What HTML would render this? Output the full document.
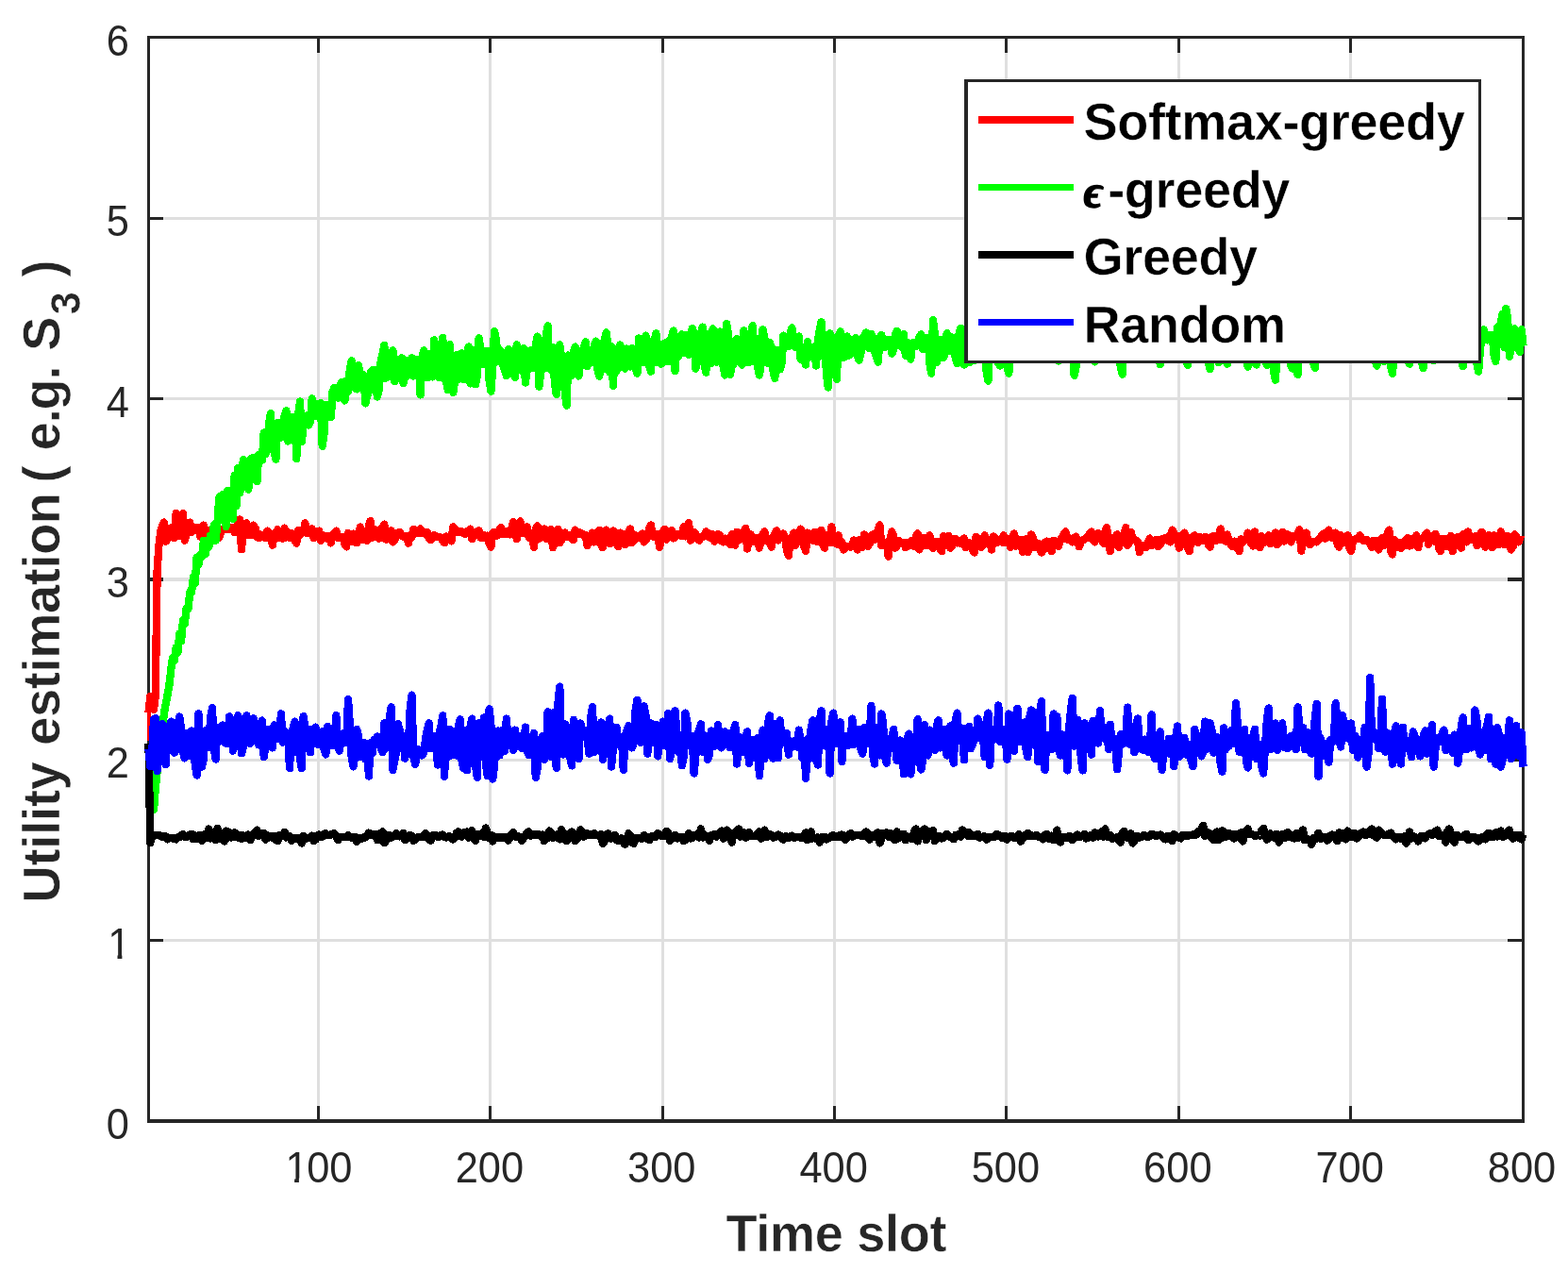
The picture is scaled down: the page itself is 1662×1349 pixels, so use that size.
<!DOCTYPE html>
<html lang="en"><head><meta charset="utf-8"><title>Utility estimation vs time slot</title>
<style>
html,body{margin:0;padding:0;background:#fff;}
svg{display:block}
text{font-family:"Liberation Sans",Arial,Helvetica,sans-serif;}
.tk{font-size:46.6px;fill:#262626;}
.lb{font-size:56.4px;font-weight:bold;fill:#262626;letter-spacing:-0.38px;stroke:#fff;stroke-width:0.5px;paint-order:fill stroke;}
.lg{font-size:56.4px;font-weight:bold;fill:#000;letter-spacing:-0.42px;stroke:#fff;stroke-width:0.5px;paint-order:fill stroke;}
.ln{fill:none;stroke-width:8.3;stroke-linejoin:round;stroke-linecap:butt;}
</style></head><body>
<svg width="1662" height="1349" viewBox="0 0 1662 1349">
<rect width="1662" height="1349" fill="#fff"/>
<g shape-rendering="crispEdges"><rect x="336" y="41" width="3" height="1145" fill="#dfdfdf"/><rect x="518" y="41" width="3" height="1145" fill="#dfdfdf"/><rect x="701" y="41" width="3" height="1145" fill="#dfdfdf"/><rect x="883" y="41" width="3" height="1145" fill="#dfdfdf"/><rect x="1065" y="41" width="3" height="1145" fill="#dfdfdf"/><rect x="1248" y="41" width="3" height="1145" fill="#dfdfdf"/><rect x="1430" y="41" width="3" height="1145" fill="#dfdfdf"/><rect x="159" y="995" width="1454" height="3" fill="#dfdfdf"/><rect x="159" y="804" width="1454" height="3" fill="#dfdfdf"/><rect x="159" y="612" width="1454" height="4" fill="#dfdfdf"/><rect x="159" y="421" width="1454" height="3" fill="#dfdfdf"/><rect x="159" y="230" width="1454" height="3" fill="#dfdfdf"/></g>
<g shape-rendering="crispEdges"><rect x="336" y="1172" width="3" height="14" fill="#262626"/><rect x="336" y="41" width="3" height="15" fill="#262626"/><rect x="518" y="1172" width="3" height="14" fill="#262626"/><rect x="518" y="41" width="3" height="15" fill="#262626"/><rect x="701" y="1172" width="3" height="14" fill="#262626"/><rect x="701" y="41" width="3" height="15" fill="#262626"/><rect x="883" y="1172" width="3" height="14" fill="#262626"/><rect x="883" y="41" width="3" height="15" fill="#262626"/><rect x="1065" y="1172" width="3" height="14" fill="#262626"/><rect x="1065" y="41" width="3" height="15" fill="#262626"/><rect x="1248" y="1172" width="3" height="14" fill="#262626"/><rect x="1248" y="41" width="3" height="15" fill="#262626"/><rect x="1430" y="1172" width="3" height="14" fill="#262626"/><rect x="1430" y="41" width="3" height="15" fill="#262626"/><rect x="159" y="995" width="14" height="3" fill="#262626"/><rect x="1598" y="995" width="15" height="3" fill="#262626"/><rect x="159" y="804" width="14" height="3" fill="#262626"/><rect x="1598" y="804" width="15" height="3" fill="#262626"/><rect x="159" y="612" width="14" height="4" fill="#262626"/><rect x="1598" y="612" width="15" height="4" fill="#262626"/><rect x="159" y="421" width="14" height="3" fill="#262626"/><rect x="1598" y="421" width="15" height="3" fill="#262626"/><rect x="159" y="230" width="14" height="3" fill="#262626"/><rect x="1598" y="230" width="15" height="3" fill="#262626"/></g>
<path shape-rendering="crispEdges" d="M156 38H1616V1190H156Z M159 41V1186H1613V41Z" fill="#262626" fill-rule="evenodd"/>
<clipPath id="c"><rect x="150" y="36" width="1470" height="1156"/></clipPath>
<g clip-path="url(#c)" shape-rendering="crispEdges"><path class="ln" stroke="#ff0000" d="M157.5,755.0 L159.3,738.0 L161.1,745.0 L163.0,752.0 L164.8,737.0 L166.6,605.0 L168.4,578.0 L170.3,563.0 L172.1,557.4 L173.9,553.6 L175.7,573.8 L177.6,570.9 L179.4,560.3 L181.2,559.5 L183.0,569.1 L184.9,570.1 L186.7,543.8 L188.5,549.8 L190.3,568.1 L192.1,549.7 L194.0,543.8 L195.8,572.8 L197.6,566.5 L199.4,556.1 L201.3,553.6 L203.1,564.1 L204.9,559.8 L206.7,558.8 L208.6,560.2 L210.4,558.8 L212.2,568.6 L214.0,558.8 L215.9,556.6 L217.7,565.8 L219.5,567.1 L221.3,561.8 L223.1,566.4 L225.0,561.9 L226.8,566.3 L228.6,561.4 L230.4,560.3 L232.3,569.8 L234.1,563.7 L235.9,560.7 L237.7,560.6 L239.6,560.3 L241.4,561.1 L243.2,560.5 L245.0,559.8 L246.9,558.8 L248.7,564.1 L250.5,559.2 L252.3,555.2 L254.1,550.6 L256.0,582.4 L257.8,559.5 L259.6,557.9 L261.4,554.3 L263.3,567.0 L265.1,567.1 L266.9,567.0 L268.7,556.6 L270.6,559.7 L272.4,568.9 L274.2,570.1 L276.0,566.4 L277.9,569.4 L279.7,569.2 L281.5,570.1 L283.3,562.6 L285.1,566.7 L287.0,565.6 L288.8,577.6 L290.6,565.2 L292.4,570.9 L294.3,561.1 L296.1,570.1 L297.9,563.5 L299.7,570.8 L301.6,559.6 L303.4,569.6 L305.2,564.2 L307.0,570.1 L308.9,564.8 L310.7,565.8 L312.5,572.9 L314.3,575.7 L316.1,561.8 L318.0,567.0 L319.8,563.9 L321.6,564.1 L323.4,554.3 L325.3,565.2 L327.1,562.4 L328.9,562.0 L330.7,560.3 L332.6,570.1 L334.4,564.8 L336.2,564.1 L338.0,562.6 L339.9,573.1 L341.7,567.2 L343.5,567.9 L345.3,568.2 L347.1,571.2 L349.0,567.9 L350.8,575.4 L352.6,567.2 L354.4,564.7 L356.3,562.6 L358.1,570.1 L359.9,568.4 L361.7,569.4 L363.6,569.1 L365.4,576.6 L367.2,579.4 L369.0,564.8 L370.9,572.6 L372.7,573.8 L374.5,565.6 L376.3,573.1 L378.1,575.4 L380.0,572.9 L381.8,558.5 L383.6,572.1 L385.4,564.9 L387.3,564.8 L389.1,573.1 L390.9,556.8 L392.7,552.1 L394.6,569.6 L396.4,560.5 L398.2,563.0 L400.0,561.9 L401.9,570.8 L403.7,561.6 L405.5,558.9 L407.3,555.6 L409.1,571.7 L411.0,569.6 L412.8,563.8 L414.6,562.3 L416.4,574.4 L418.3,571.9 L420.1,568.9 L421.9,564.8 L423.7,563.7 L425.6,567.1 L427.4,568.8 L429.2,567.9 L431.0,568.2 L432.9,575.8 L434.7,568.4 L436.5,569.0 L438.3,561.0 L440.1,562.5 L442.0,565.2 L443.8,564.4 L445.6,560.5 L447.4,565.1 L449.3,565.4 L451.1,565.3 L452.9,563.7 L454.7,570.7 L456.6,572.2 L458.4,567.6 L460.2,567.0 L462.0,569.0 L463.9,569.0 L465.7,569.4 L467.5,569.5 L469.3,573.4 L471.1,575.3 L473.0,568.6 L474.8,569.7 L476.6,571.3 L478.4,573.5 L480.3,558.3 L482.1,560.1 L483.9,563.5 L485.7,563.8 L487.6,562.8 L489.4,563.2 L491.2,565.3 L493.0,565.8 L494.9,563.0 L496.7,562.2 L498.5,560.6 L500.3,571.3 L502.1,564.6 L504.0,565.5 L505.8,563.9 L507.6,562.3 L509.4,569.9 L511.3,570.3 L513.1,567.4 L514.9,567.7 L516.7,567.6 L518.6,576.4 L520.4,579.8 L522.2,565.4 L524.0,563.7 L525.9,568.0 L527.7,567.1 L529.5,561.1 L531.3,559.2 L533.1,566.2 L535.0,565.6 L536.8,566.2 L538.6,562.8 L540.4,566.4 L542.3,560.5 L544.1,552.9 L545.9,556.5 L547.7,571.3 L549.6,556.0 L551.4,552.5 L553.2,564.4 L555.0,564.9 L556.9,561.4 L558.7,558.3 L560.5,569.0 L562.3,570.5 L564.1,565.5 L566.0,579.8 L567.8,560.9 L569.6,557.4 L571.4,570.8 L573.3,569.8 L575.1,562.3 L576.9,560.5 L578.7,570.8 L580.6,570.4 L582.4,562.3 L584.2,561.0 L586.0,580.3 L587.9,576.1 L589.7,563.1 L591.5,561.0 L593.3,575.3 L595.1,572.6 L597.0,565.1 L598.8,564.6 L600.6,569.0 L602.4,567.6 L604.3,567.3 L606.1,570.7 L607.9,572.2 L609.7,561.6 L611.6,565.3 L613.4,566.2 L615.2,564.6 L617.0,565.7 L618.9,567.2 L620.7,567.3 L622.5,578.0 L624.3,575.4 L626.1,567.0 L628.0,564.6 L629.8,574.4 L631.6,574.0 L633.4,564.8 L635.3,561.9 L637.1,576.9 L638.9,580.3 L640.7,564.7 L642.6,561.6 L644.4,565.0 L646.2,576.2 L648.0,574.0 L649.9,562.5 L651.7,565.2 L653.5,576.2 L655.3,579.2 L657.1,564.6 L659.0,565.6 L660.8,574.5 L662.6,577.1 L664.4,573.5 L666.3,563.4 L668.1,560.5 L669.9,575.3 L671.7,573.1 L673.6,567.3 L675.4,567.9 L677.2,569.9 L679.0,570.0 L680.9,565.5 L682.7,574.4 L684.5,572.0 L686.3,569.8 L688.1,559.8 L690.0,556.5 L691.8,568.1 L693.6,569.2 L695.4,565.9 L697.3,566.4 L699.1,579.8 L700.9,571.6 L702.7,563.4 L704.6,561.0 L706.4,571.7 L708.2,569.1 L710.0,563.6 L711.9,561.9 L713.7,570.4 L715.5,569.3 L717.3,566.4 L719.1,566.6 L721.0,567.4 L722.8,568.1 L724.6,558.3 L726.4,568.4 L728.3,558.3 L730.1,554.3 L731.9,572.6 L733.7,569.7 L735.6,563.7 L737.4,565.5 L739.2,571.4 L741.0,572.6 L742.9,570.0 L744.7,568.8 L746.5,568.1 L748.3,563.4 L750.1,564.8 L752.0,569.4 L753.8,566.7 L755.6,566.4 L757.4,573.8 L759.3,571.1 L761.1,565.9 L762.9,567.4 L764.7,573.1 L766.6,574.4 L768.4,570.6 L770.2,572.7 L772.0,574.8 L773.9,576.7 L775.7,566.4 L777.5,575.3 L779.3,577.6 L781.1,563.7 L783.0,567.2 L784.8,571.7 L786.6,570.8 L788.4,563.2 L790.3,559.7 L792.1,581.6 L793.9,567.9 L795.7,566.4 L797.6,573.5 L799.4,573.8 L801.2,570.2 L803.0,570.0 L804.9,580.7 L806.7,573.9 L808.5,565.9 L810.3,563.4 L812.1,572.6 L814.0,573.9 L815.8,570.9 L817.6,579.8 L819.4,569.3 L821.3,565.2 L823.1,562.3 L824.9,572.6 L826.7,567.7 L828.6,566.9 L830.4,565.5 L832.2,570.8 L834.0,583.4 L835.9,588.8 L837.7,570.0 L839.5,576.5 L841.3,564.6 L843.1,578.0 L845.0,566.1 L846.8,573.5 L848.6,560.5 L850.4,563.8 L852.3,579.2 L854.1,583.8 L855.9,564.6 L857.7,566.4 L859.6,571.3 L861.4,572.6 L863.2,563.7 L865.0,565.6 L866.9,574.4 L868.7,564.6 L870.5,561.9 L872.3,577.3 L874.1,580.7 L876.0,567.3 L877.8,567.2 L879.6,575.3 L881.4,558.3 L883.3,574.9 L885.1,575.0 L886.9,576.5 L888.7,567.3 L890.6,577.8 L892.4,574.5 L894.2,582.5 L896.0,581.2 L897.9,579.1 L899.7,579.1 L901.5,579.8 L903.3,579.1 L905.1,572.4 L907.0,573.9 L908.8,582.5 L910.6,572.3 L912.4,577.8 L914.3,579.8 L916.1,566.4 L917.9,568.6 L919.7,578.9 L921.6,576.2 L923.4,567.8 L925.2,566.4 L927.0,571.7 L928.9,570.6 L930.7,560.8 L932.5,556.5 L934.3,578.0 L936.1,576.4 L938.0,575.0 L939.8,574.5 L941.6,589.7 L943.4,571.7 L945.3,563.4 L947.1,567.2 L948.9,580.7 L950.7,578.6 L952.6,572.7 L954.4,575.3 L956.2,576.1 L958.0,575.1 L959.9,580.3 L961.7,575.4 L963.5,578.4 L965.3,574.0 L967.1,572.7 L969.0,578.9 L970.8,568.8 L972.6,565.5 L974.4,582.5 L976.3,570.1 L978.1,571.5 L979.9,570.0 L981.7,578.0 L983.6,569.7 L985.4,567.3 L987.2,579.0 L989.0,581.0 L990.9,574.5 L992.7,575.4 L994.5,573.7 L996.3,581.5 L998.1,584.3 L1000.0,568.2 L1001.8,571.3 L1003.6,570.1 L1005.4,567.7 L1007.3,580.7 L1009.1,578.4 L1010.9,572.0 L1012.7,570.9 L1014.6,575.3 L1016.4,574.7 L1018.2,575.9 L1020.0,571.9 L1021.9,570.6 L1023.7,580.3 L1025.5,579.1 L1027.3,575.4 L1029.1,576.2 L1031.0,582.8 L1032.8,585.6 L1034.6,568.8 L1036.4,571.3 L1038.3,571.8 L1040.1,579.8 L1041.9,578.1 L1043.7,567.3 L1045.6,571.8 L1047.4,573.2 L1049.2,571.8 L1051.0,582.5 L1052.9,568.6 L1054.7,570.4 L1056.5,575.3 L1058.3,571.8 L1060.1,571.5 L1062.0,574.7 L1063.8,567.3 L1065.6,574.9 L1067.4,571.1 L1069.3,570.9 L1071.1,580.1 L1072.9,577.9 L1074.7,565.5 L1076.6,578.6 L1078.4,571.2 L1080.2,573.3 L1082.0,571.8 L1083.9,584.7 L1085.7,573.0 L1087.5,571.3 L1089.3,585.2 L1091.1,580.6 L1093.0,566.4 L1094.8,569.9 L1096.6,580.3 L1098.4,575.4 L1100.3,575.8 L1102.1,580.8 L1103.9,585.6 L1105.7,582.9 L1107.6,574.9 L1109.4,573.6 L1111.2,574.4 L1113.0,581.7 L1114.9,584.3 L1116.7,572.7 L1118.5,573.3 L1120.3,577.4 L1122.1,578.9 L1124.0,571.8 L1125.8,570.2 L1127.6,565.8 L1129.4,563.4 L1131.3,571.7 L1133.1,570.1 L1134.9,570.9 L1136.7,574.4 L1138.6,569.8 L1140.4,568.6 L1142.2,574.1 L1144.0,579.4 L1145.9,572.7 L1147.7,572.6 L1149.5,571.5 L1151.3,569.6 L1153.1,569.9 L1155.0,565.4 L1156.8,563.4 L1158.6,572.6 L1160.4,574.4 L1162.3,566.8 L1164.1,565.2 L1165.9,567.7 L1167.7,567.3 L1169.6,575.8 L1171.4,563.1 L1173.2,559.2 L1175.0,576.4 L1176.9,584.3 L1178.7,570.0 L1180.5,570.3 L1182.3,568.8 L1184.1,566.4 L1186.0,579.8 L1187.8,568.2 L1189.6,575.3 L1191.4,567.1 L1193.3,559.2 L1195.1,578.0 L1196.9,575.5 L1198.7,563.7 L1200.6,571.7 L1202.4,571.8 L1204.2,572.7 L1206.0,574.0 L1207.9,585.2 L1209.7,578.1 L1211.5,578.2 L1213.3,578.9 L1215.1,579.8 L1217.0,574.5 L1218.8,570.6 L1220.6,578.0 L1222.4,577.2 L1224.3,572.6 L1226.1,571.8 L1227.9,579.2 L1229.7,577.2 L1231.6,571.2 L1233.4,572.6 L1235.2,570.0 L1237.0,572.7 L1238.9,568.2 L1240.7,574.4 L1242.5,561.6 L1244.3,564.7 L1246.1,567.9 L1248.0,568.2 L1249.8,580.7 L1251.6,577.9 L1253.4,567.4 L1255.3,564.6 L1257.1,568.9 L1258.9,580.7 L1260.7,584.3 L1262.6,570.0 L1264.4,570.1 L1266.2,567.3 L1268.0,573.6 L1269.9,574.9 L1271.7,568.8 L1273.5,572.5 L1275.3,572.6 L1277.1,568.8 L1279.0,569.4 L1280.8,577.1 L1282.6,579.8 L1284.4,569.3 L1286.3,567.7 L1288.1,573.2 L1289.9,572.6 L1291.7,572.0 L1293.6,560.5 L1295.4,572.2 L1297.2,572.4 L1299.0,573.5 L1300.9,566.4 L1302.7,574.0 L1304.5,577.0 L1306.3,578.9 L1308.1,573.6 L1310.0,576.5 L1311.8,581.0 L1313.6,584.3 L1315.4,571.3 L1317.3,574.1 L1319.1,571.5 L1320.9,571.7 L1322.7,564.6 L1324.6,573.2 L1326.4,575.9 L1328.2,578.5 L1330.0,563.4 L1331.9,575.4 L1333.7,577.4 L1335.5,580.3 L1337.3,568.2 L1339.1,574.5 L1341.0,574.4 L1342.8,573.9 L1344.6,567.3 L1346.4,576.2 L1348.3,574.4 L1350.1,574.4 L1351.9,564.6 L1353.7,577.1 L1355.6,574.8 L1357.4,566.0 L1359.2,563.7 L1361.0,573.5 L1362.9,572.3 L1364.7,566.4 L1366.5,567.9 L1368.3,574.4 L1370.1,568.2 L1372.0,569.4 L1373.8,568.1 L1375.6,565.0 L1377.4,561.4 L1379.3,583.8 L1381.1,568.5 L1382.9,567.3 L1384.7,564.6 L1386.6,575.7 L1388.4,577.1 L1390.2,575.4 L1392.0,574.0 L1393.9,574.0 L1395.7,574.4 L1397.5,571.8 L1399.3,571.0 L1401.1,567.3 L1403.0,565.5 L1404.8,570.8 L1406.6,564.0 L1408.4,561.6 L1410.3,569.2 L1412.1,569.9 L1413.9,566.2 L1415.7,564.6 L1417.6,576.7 L1419.4,579.8 L1421.2,567.3 L1423.0,574.8 L1424.9,575.3 L1426.7,569.1 L1428.5,567.3 L1430.3,580.5 L1432.1,583.8 L1434.0,572.7 L1435.8,571.7 L1437.6,571.0 L1439.4,570.8 L1441.3,567.3 L1443.1,571.1 L1444.9,572.7 L1446.7,572.1 L1448.6,571.8 L1450.4,574.4 L1452.2,575.8 L1454.0,579.8 L1455.9,572.7 L1457.7,573.3 L1459.5,572.7 L1461.3,582.5 L1463.1,578.3 L1465.0,570.0 L1466.8,578.0 L1468.6,576.7 L1470.4,566.0 L1472.3,561.6 L1474.1,583.4 L1475.9,587.5 L1477.7,571.8 L1479.6,573.8 L1481.4,579.9 L1483.2,575.4 L1485.0,580.7 L1486.9,574.6 L1488.7,578.4 L1490.5,572.0 L1492.3,570.0 L1494.1,578.5 L1496.0,577.8 L1497.8,571.3 L1499.6,569.8 L1501.4,567.3 L1503.3,580.3 L1505.1,571.3 L1506.9,570.9 L1508.7,570.0 L1510.6,567.3 L1512.4,564.6 L1514.2,577.1 L1516.0,568.2 L1517.9,569.2 L1519.7,573.5 L1521.5,565.9 L1523.3,569.3 L1525.1,580.8 L1527.0,584.3 L1528.8,570.9 L1530.6,571.4 L1532.4,578.9 L1534.3,570.7 L1536.1,578.9 L1537.9,567.9 L1539.7,584.3 L1541.6,570.1 L1543.4,570.9 L1545.2,569.1 L1547.0,578.2 L1548.9,580.7 L1550.7,566.4 L1552.5,568.1 L1554.3,574.4 L1556.1,563.4 L1558.0,571.7 L1559.8,571.7 L1561.6,572.0 L1563.4,568.2 L1565.3,578.0 L1567.1,575.6 L1568.9,566.3 L1570.7,563.7 L1572.6,576.9 L1574.4,579.8 L1576.2,569.0 L1578.0,567.3 L1579.9,576.7 L1581.7,580.3 L1583.5,567.3 L1585.3,568.0 L1587.1,576.3 L1589.0,577.1 L1590.8,563.4 L1592.6,567.3 L1594.4,577.1 L1596.3,575.5 L1598.1,568.2 L1599.9,569.2 L1601.7,582.5 L1603.6,579.2 L1605.4,566.4 L1607.2,568.5 L1609.0,574.4 L1610.9,572.4 L1612.7,571.8 L1614.5,572.6"/>
<rect x="156" y="754" width="3.6" height="31" fill="#ff0000"/>
<path class="ln" stroke="#00ff00" d="M157.5,790.0 L159.3,830.0 L161.1,853.0 L163.0,858.0 L164.8,835.0 L166.6,818.0 L168.4,802.0 L170.3,787.0 L172.1,771.0 L173.9,756.0 L175.7,746.0 L177.6,736.0 L179.4,726.0 L181.2,710.0 L183.0,697.0 L184.9,699.8 L186.7,686.0 L188.5,691.3 L190.3,671.5 L192.1,679.3 L194.0,657.2 L195.8,661.5 L197.6,644.3 L199.4,645.5 L201.3,627.5 L203.1,627.5 L204.9,611.8 L206.7,618.4 L208.6,590.5 L210.4,598.7 L212.2,587.9 L214.0,589.7 L215.9,572.8 L217.7,587.1 L219.5,572.8 L221.3,579.7 L223.1,567.4 L225.0,573.5 L226.8,556.3 L228.6,572.6 L230.4,554.8 L232.3,527.4 L234.1,525.6 L235.9,524.4 L237.7,524.7 L239.6,558.0 L241.4,519.7 L243.2,523.2 L245.0,520.6 L246.9,549.7 L248.7,503.6 L250.5,535.9 L252.3,496.1 L254.1,522.4 L256.0,514.0 L257.8,487.1 L259.6,490.1 L261.4,510.3 L263.3,518.6 L265.1,487.9 L266.9,485.5 L268.7,485.0 L270.6,502.9 L272.4,510.3 L274.2,481.8 L276.0,481.0 L277.9,487.8 L279.7,458.5 L281.5,481.0 L283.3,476.6 L285.1,447.9 L287.0,438.2 L288.8,476.2 L290.6,478.6 L292.4,486.7 L294.3,447.9 L296.1,451.2 L297.9,463.7 L299.7,461.6 L301.6,441.2 L303.4,435.2 L305.2,467.5 L307.0,462.4 L308.9,443.9 L310.7,441.9 L312.5,443.4 L314.3,486.0 L316.1,439.2 L318.0,425.4 L319.8,468.2 L321.6,451.9 L323.4,450.9 L325.3,440.4 L327.1,450.5 L328.9,446.6 L330.7,422.4 L332.6,440.9 L334.4,428.1 L336.2,441.0 L338.0,429.1 L339.9,427.0 L341.7,472.7 L343.5,459.2 L345.3,429.5 L347.1,428.8 L349.0,437.0 L350.8,442.2 L352.6,414.9 L354.4,410.8 L356.3,415.6 L358.1,421.7 L359.9,409.3 L361.7,405.4 L363.6,420.6 L365.4,424.5 L367.2,403.4 L369.0,414.7 L370.9,390.6 L372.7,382.3 L374.5,396.1 L376.3,411.0 L378.1,412.4 L380.0,387.3 L381.8,397.7 L383.6,396.4 L385.4,397.7 L387.3,427.4 L389.1,419.8 L390.9,414.2 L392.7,395.0 L394.6,392.4 L396.4,391.8 L398.2,410.7 L400.0,420.5 L401.9,412.2 L403.7,383.0 L405.5,375.1 L407.3,366.0 L409.1,400.7 L411.0,396.6 L412.8,398.8 L414.6,377.7 L416.4,371.4 L418.3,404.3 L420.1,399.9 L421.9,380.9 L423.7,383.2 L425.6,379.2 L427.4,406.1 L429.2,381.6 L431.0,399.0 L432.9,381.7 L434.7,382.9 L436.5,379.2 L438.3,398.5 L440.1,382.6 L442.0,381.0 L443.8,382.8 L445.6,418.4 L447.4,378.6 L449.3,371.4 L451.1,377.4 L452.9,400.3 L454.7,375.3 L456.6,397.7 L458.4,399.4 L460.2,360.3 L462.0,372.1 L463.9,396.8 L465.7,400.3 L467.5,397.9 L469.3,358.1 L471.1,400.7 L473.0,404.3 L474.8,413.3 L476.6,365.3 L478.4,406.8 L480.3,416.0 L482.1,403.9 L483.9,376.2 L485.7,402.0 L487.6,377.0 L489.4,374.3 L491.2,402.1 L493.0,398.9 L494.9,374.1 L496.7,367.5 L498.5,406.5 L500.3,398.8 L502.1,371.0 L504.0,407.4 L505.8,398.3 L507.6,358.4 L509.4,370.0 L511.3,386.2 L513.1,384.1 L514.9,372.0 L516.7,371.7 L518.6,403.4 L520.4,414.6 L522.2,391.4 L524.0,351.2 L525.9,359.8 L527.7,382.6 L529.5,370.7 L531.3,372.2 L533.1,386.1 L535.0,392.0 L536.8,398.3 L538.6,370.2 L540.4,389.9 L542.3,371.8 L544.1,393.4 L545.9,400.1 L547.7,365.3 L549.6,371.4 L551.4,392.5 L553.2,372.4 L555.0,369.3 L556.9,405.6 L558.7,392.6 L560.5,373.3 L562.3,371.4 L564.1,389.9 L566.0,389.5 L567.8,365.0 L569.6,356.6 L571.4,409.7 L573.3,394.0 L575.1,365.2 L576.9,390.6 L578.7,356.2 L580.6,345.4 L582.4,389.9 L584.2,391.9 L586.0,368.1 L587.9,405.8 L589.7,417.8 L591.5,372.8 L593.3,365.3 L595.1,402.6 L597.0,377.0 L598.8,416.2 L600.6,429.6 L602.4,376.5 L604.3,377.4 L606.1,397.9 L607.9,373.7 L609.7,367.5 L611.6,392.9 L613.4,398.5 L615.2,372.5 L617.0,387.0 L618.9,368.1 L620.7,362.4 L622.5,388.1 L624.3,383.3 L626.1,381.1 L628.0,383.5 L629.8,365.5 L631.6,361.6 L633.4,391.2 L635.3,398.7 L637.1,364.2 L638.9,391.4 L640.7,361.3 L642.6,352.5 L644.4,365.6 L646.2,394.4 L648.0,367.3 L649.9,408.7 L651.7,370.2 L653.5,393.2 L655.3,369.8 L657.1,365.5 L659.0,370.2 L660.8,389.0 L662.6,390.6 L664.4,369.5 L666.3,370.7 L668.1,388.5 L669.9,369.2 L671.7,388.4 L673.6,389.5 L675.4,395.7 L677.2,358.3 L679.0,364.1 L680.9,384.3 L682.7,382.8 L684.5,355.6 L686.3,362.1 L688.1,387.0 L690.0,393.7 L691.8,362.8 L693.6,360.4 L695.4,353.2 L697.3,384.2 L699.1,365.0 L700.9,385.6 L702.7,364.6 L704.6,383.3 L706.4,363.0 L708.2,383.1 L710.0,360.2 L711.9,357.6 L713.7,350.5 L715.5,393.3 L717.3,357.4 L719.1,377.8 L721.0,356.8 L722.8,354.3 L724.6,373.8 L726.4,373.3 L728.3,355.0 L730.1,375.7 L731.9,354.1 L733.7,348.0 L735.6,353.8 L737.4,390.6 L739.2,382.6 L741.0,382.4 L742.9,353.5 L744.7,346.6 L746.5,385.7 L748.3,394.8 L750.1,353.7 L752.0,382.9 L753.8,385.2 L755.6,348.4 L757.4,354.0 L759.3,383.7 L761.1,354.7 L762.9,351.4 L764.7,354.8 L766.6,388.0 L768.4,397.5 L770.2,343.1 L772.0,354.9 L773.9,396.9 L775.7,388.3 L777.5,386.1 L779.3,361.0 L781.1,359.2 L783.0,361.0 L784.8,383.3 L786.6,386.6 L788.4,350.2 L790.3,358.4 L792.1,381.7 L793.9,384.3 L795.7,381.9 L797.6,345.3 L799.4,383.4 L801.2,359.0 L803.0,388.6 L804.9,397.5 L806.7,385.2 L808.5,349.3 L810.3,357.9 L812.1,364.5 L814.0,385.0 L815.8,362.8 L817.6,367.8 L819.4,392.7 L821.3,400.9 L823.1,371.3 L824.9,373.1 L826.7,391.5 L828.6,384.8 L830.4,355.6 L832.2,359.9 L834.0,362.4 L835.9,367.3 L837.7,352.7 L839.5,347.5 L841.3,363.5 L843.1,368.0 L845.0,362.6 L846.8,356.5 L848.6,380.7 L850.4,374.8 L852.3,381.1 L854.1,386.6 L855.9,362.3 L857.7,377.9 L859.6,367.7 L861.4,369.5 L863.2,367.3 L865.0,387.5 L866.9,360.4 L868.7,350.0 L870.5,341.2 L872.3,377.1 L874.1,355.4 L876.0,396.8 L877.8,410.5 L879.6,353.2 L881.4,357.1 L883.3,387.2 L885.1,391.3 L886.9,401.8 L888.7,356.7 L890.6,351.4 L892.4,357.2 L894.2,378.9 L896.0,358.2 L897.9,356.5 L899.7,376.7 L901.5,375.1 L903.3,359.7 L905.1,361.6 L907.0,358.3 L908.8,376.8 L910.6,381.6 L912.4,374.6 L914.3,358.2 L916.1,356.9 L917.9,352.5 L919.7,367.9 L921.6,369.0 L923.4,353.8 L925.2,357.7 L927.0,372.4 L928.9,377.7 L930.7,383.8 L932.5,358.7 L934.3,355.1 L936.1,366.5 L938.0,368.1 L939.8,360.5 L941.6,360.1 L943.4,360.4 L945.3,374.7 L947.1,371.0 L948.9,355.0 L950.7,350.7 L952.6,366.2 L954.4,364.9 L956.2,368.0 L958.0,354.3 L959.9,377.1 L961.7,362.8 L963.5,376.3 L965.3,380.7 L967.1,364.6 L969.0,362.7 L970.8,367.0 L972.6,366.2 L974.4,357.3 L976.3,354.3 L978.1,369.9 L979.9,367.9 L981.7,358.3 L983.6,357.7 L985.4,385.4 L987.2,395.7 L989.0,339.3 L990.9,354.7 L992.7,384.3 L994.5,378.2 L996.3,360.1 L998.1,360.8 L1000.0,378.9 L1001.8,374.2 L1003.6,353.2 L1005.4,369.1 L1007.3,371.7 L1009.1,357.4 L1010.9,360.6 L1012.7,378.9 L1014.6,385.2 L1016.4,354.7 L1018.2,348.0 L1020.0,379.9 L1021.9,386.6 L1023.7,349.3 L1025.5,379.4 L1027.3,384.3 L1029.1,379.5 L1031.0,377.7 L1032.8,382.1 L1034.6,360.3 L1036.4,358.3 L1038.3,361.2 L1040.1,374.0 L1041.9,361.5 L1043.7,374.0 L1045.6,393.8 L1047.4,403.6 L1049.2,361.8 L1051.0,374.0 L1052.9,361.6 L1054.7,374.0 L1056.5,361.4 L1058.3,385.2 L1060.1,387.5 L1062.0,374.0 L1063.8,361.4 L1065.6,374.0 L1067.4,388.3 L1069.3,395.7 L1071.1,361.6 L1072.9,374.0 L1074.7,361.5 L1076.6,374.0 L1078.4,361.4 L1080.2,374.0 L1082.0,361.4 L1083.9,374.0 L1085.7,361.3 L1087.5,374.0 L1089.3,361.3 L1091.1,358.3 L1093.0,361.2 L1094.8,374.0 L1096.6,361.1 L1098.4,374.0 L1100.3,361.1 L1102.1,374.0 L1103.9,361.0 L1105.7,374.0 L1107.6,361.0 L1109.4,374.0 L1111.2,360.9 L1113.0,374.0 L1114.9,360.9 L1116.7,374.0 L1118.5,360.8 L1120.3,374.0 L1122.1,382.5 L1124.0,380.5 L1125.8,360.9 L1127.6,374.0 L1129.4,361.0 L1131.3,374.0 L1133.1,361.2 L1134.9,374.0 L1136.7,361.4 L1138.6,397.8 L1140.4,389.5 L1142.2,374.0 L1144.0,358.3 L1145.9,363.5 L1147.7,361.2 L1149.5,374.0 L1151.3,361.1 L1153.1,374.0 L1155.0,361.0 L1156.8,374.0 L1158.6,379.1 L1160.4,383.4 L1162.3,360.9 L1164.1,374.0 L1165.9,360.9 L1167.7,374.0 L1169.6,361.0 L1171.4,374.0 L1173.2,361.1 L1175.0,374.0 L1176.9,361.2 L1178.7,374.0 L1180.5,361.3 L1182.3,374.0 L1184.1,361.4 L1186.0,374.0 L1187.8,388.7 L1189.6,396.6 L1191.4,361.5 L1193.3,374.0 L1195.1,361.5 L1196.9,374.0 L1198.7,358.3 L1200.6,363.8 L1202.4,361.5 L1204.2,374.0 L1206.0,361.1 L1207.9,374.0 L1209.7,361.1 L1211.5,374.0 L1213.3,361.1 L1215.1,374.0 L1217.0,361.1 L1218.8,358.3 L1220.6,361.1 L1222.4,374.0 L1224.3,361.1 L1226.1,374.0 L1227.9,361.1 L1229.7,386.1 L1231.6,381.2 L1233.4,374.0 L1235.2,361.1 L1237.0,374.0 L1238.9,361.1 L1240.7,374.0 L1242.5,361.1 L1244.3,374.0 L1246.1,361.1 L1248.0,374.0 L1249.8,361.1 L1251.6,374.0 L1253.4,361.1 L1255.3,374.0 L1257.1,381.8 L1258.9,387.0 L1260.7,361.1 L1262.6,374.0 L1264.4,361.1 L1266.2,374.0 L1268.0,361.2 L1269.9,374.0 L1271.7,361.2 L1273.5,374.0 L1275.3,361.2 L1277.1,374.0 L1279.0,361.2 L1280.8,384.8 L1282.6,391.2 L1284.4,374.0 L1286.3,361.1 L1288.1,374.0 L1289.9,358.3 L1291.7,384.3 L1293.6,360.9 L1295.4,374.0 L1297.2,361.0 L1299.0,382.4 L1300.9,385.7 L1302.7,374.0 L1304.5,361.0 L1306.3,374.0 L1308.1,361.1 L1310.0,374.0 L1311.8,361.1 L1313.6,374.0 L1315.4,361.1 L1317.3,374.0 L1319.1,361.2 L1320.9,374.0 L1322.7,388.8 L1324.6,384.5 L1326.4,361.2 L1328.2,374.0 L1330.0,381.7 L1331.9,386.6 L1333.7,361.1 L1335.5,374.0 L1337.3,361.2 L1339.1,374.0 L1341.0,382.0 L1342.8,387.0 L1344.6,361.4 L1346.4,374.0 L1348.3,361.7 L1350.1,393.5 L1351.9,402.7 L1353.7,374.0 L1355.6,361.9 L1357.4,374.0 L1359.2,361.8 L1361.0,364.4 L1362.9,358.3 L1364.7,374.0 L1366.5,361.6 L1368.3,387.7 L1370.1,390.6 L1372.0,374.0 L1373.8,389.5 L1375.6,396.9 L1377.4,361.8 L1379.3,374.0 L1381.1,361.7 L1382.9,374.0 L1384.7,361.7 L1386.6,374.0 L1388.4,361.6 L1390.2,374.0 L1392.0,384.6 L1393.9,390.1 L1395.7,361.5 L1397.5,374.0 L1399.3,361.5 L1401.1,374.0 L1403.0,361.5 L1404.8,374.0 L1406.6,361.5 L1408.4,374.0 L1410.3,361.5 L1412.1,374.0 L1413.9,361.5 L1415.7,374.0 L1417.6,361.5 L1419.4,374.0 L1421.2,361.5 L1423.0,374.0 L1424.9,361.5 L1426.7,374.0 L1428.5,361.5 L1430.3,374.0 L1432.1,361.5 L1434.0,358.3 L1435.8,361.5 L1437.6,374.0 L1439.4,361.5 L1441.3,374.0 L1443.1,361.0 L1444.9,374.0 L1446.7,361.0 L1448.6,363.0 L1450.4,358.3 L1452.2,374.0 L1454.0,361.0 L1455.9,374.0 L1457.7,382.0 L1459.5,387.5 L1461.3,360.9 L1463.1,374.0 L1465.0,378.8 L1466.8,383.0 L1468.6,360.9 L1470.4,374.0 L1472.3,361.2 L1474.1,388.2 L1475.9,396.0 L1477.7,374.0 L1479.6,361.4 L1481.4,374.0 L1483.2,361.3 L1485.0,374.0 L1486.9,361.2 L1488.7,374.0 L1490.5,361.1 L1492.3,383.3 L1494.1,385.7 L1496.0,374.0 L1497.8,361.1 L1499.6,374.0 L1501.4,361.1 L1503.3,363.2 L1505.1,358.3 L1506.9,383.9 L1508.7,390.1 L1510.6,374.0 L1512.4,361.0 L1514.2,374.0 L1516.0,360.8 L1517.9,380.3 L1519.7,382.1 L1521.5,374.0 L1523.3,360.6 L1525.1,374.0 L1527.0,360.6 L1528.8,374.0 L1530.6,360.6 L1532.4,374.0 L1534.3,360.5 L1536.1,374.0 L1537.9,360.5 L1539.7,374.0 L1541.6,360.4 L1543.4,374.0 L1545.2,360.4 L1547.0,374.0 L1548.9,381.4 L1550.7,388.3 L1552.5,360.3 L1554.3,374.0 L1556.1,360.3 L1558.0,358.3 L1559.8,359.9 L1561.6,374.0 L1563.4,358.5 L1565.3,384.3 L1567.1,393.7 L1568.9,371.0 L1570.7,353.4 L1572.6,349.3 L1574.4,359.0 L1576.2,360.4 L1578.0,355.6 L1579.9,357.3 L1581.7,355.0 L1583.5,375.5 L1585.3,382.9 L1587.1,347.1 L1589.0,349.4 L1590.8,341.5 L1592.6,333.0 L1594.4,368.1 L1596.3,327.1 L1598.1,337.6 L1599.9,378.0 L1601.7,369.7 L1603.6,351.5 L1605.4,348.4 L1607.2,352.6 L1609.0,368.4 L1610.9,373.1 L1612.7,349.3 L1614.5,366.2"/>
<path class="ln" stroke="#000000" d="M157.5,788.0 L159.3,893.0 L161.1,887.5 L163.0,885.7 L164.8,885.0 L166.6,885.3 L168.4,884.9 L170.3,886.3 L172.1,886.6 L173.9,886.5 L175.7,886.3 L177.6,889.4 L179.4,887.8 L181.2,887.9 L183.0,888.6 L184.9,888.4 L186.7,889.4 L188.5,887.2 L190.3,887.1 L192.1,885.0 L194.0,884.1 L195.8,886.7 L197.6,887.1 L199.4,885.5 L201.3,884.8 L203.1,883.8 L204.9,889.4 L206.7,885.4 L208.6,888.5 L210.4,885.4 L212.2,885.0 L214.0,890.8 L215.9,888.5 L217.7,883.6 L219.5,888.1 L221.3,878.4 L223.1,888.5 L225.0,881.8 L226.8,888.1 L228.6,890.3 L230.4,877.8 L232.3,881.7 L234.1,888.7 L235.9,889.4 L237.7,891.5 L239.6,880.5 L241.4,888.0 L243.2,882.3 L245.0,887.6 L246.9,886.7 L248.7,882.3 L250.5,884.0 L252.3,887.5 L254.1,885.0 L256.0,888.8 L257.8,885.3 L259.6,887.8 L261.4,885.2 L263.3,884.5 L265.1,890.3 L266.9,887.1 L268.7,883.7 L270.6,881.4 L272.4,879.6 L274.2,885.8 L276.0,883.8 L277.9,883.7 L279.7,882.7 L281.5,889.7 L283.3,885.4 L285.1,887.5 L287.0,885.9 L288.8,887.6 L290.6,886.1 L292.4,889.8 L294.3,891.2 L296.1,885.0 L297.9,885.3 L299.7,886.3 L301.6,881.8 L303.4,887.5 L305.2,886.6 L307.0,886.3 L308.9,890.8 L310.7,888.7 L312.5,888.6 L314.3,888.5 L316.1,888.2 L318.0,889.6 L319.8,893.5 L321.6,885.9 L323.4,887.3 L325.3,888.5 L327.1,887.6 L328.9,887.8 L330.7,885.6 L332.6,891.2 L334.4,889.9 L336.2,885.4 L338.0,884.5 L339.9,886.6 L341.7,886.7 L343.5,884.1 L345.3,883.2 L347.1,885.2 L349.0,884.7 L350.8,884.5 L352.6,884.0 L354.4,883.2 L356.3,885.9 L358.1,890.3 L359.9,886.8 L361.7,886.9 L363.6,886.7 L365.4,886.7 L367.2,886.7 L369.0,885.0 L370.9,886.8 L372.7,887.9 L374.5,887.2 L376.3,886.8 L378.1,892.1 L380.0,888.4 L381.8,888.5 L383.6,888.6 L385.4,887.4 L387.3,887.6 L389.1,885.4 L390.9,882.7 L392.7,883.4 L394.6,885.2 L396.4,884.2 L398.2,883.8 L400.0,890.3 L401.9,888.7 L403.7,883.0 L405.5,881.4 L407.3,893.3 L409.1,891.0 L411.0,884.8 L412.8,885.0 L414.6,887.6 L416.4,886.9 L418.3,884.8 L420.1,883.2 L421.9,886.3 L423.7,886.4 L425.6,884.7 L427.4,882.7 L429.2,890.3 L431.0,889.0 L432.9,885.7 L434.7,885.0 L436.5,885.9 L438.3,890.8 L440.1,889.7 L442.0,887.4 L443.8,887.4 L445.6,887.2 L447.4,886.3 L449.3,886.7 L451.1,883.2 L452.9,887.4 L454.7,889.3 L456.6,890.8 L458.4,885.2 L460.2,885.0 L462.0,885.3 L463.9,886.8 L465.7,886.7 L467.5,885.0 L469.3,884.5 L471.1,887.1 L473.0,887.6 L474.8,886.5 L476.6,886.3 L478.4,888.4 L480.3,889.4 L482.1,887.3 L483.9,882.8 L485.7,881.4 L487.6,885.9 L489.4,886.7 L491.2,882.3 L493.0,882.4 L494.9,881.4 L496.7,887.6 L498.5,881.7 L500.3,880.2 L502.1,888.9 L504.0,890.8 L505.8,884.2 L507.6,884.1 L509.4,883.6 L511.3,886.4 L513.1,886.7 L514.9,877.5 L516.7,883.4 L518.6,888.1 L520.4,885.0 L522.2,891.5 L524.0,886.6 L525.9,888.3 L527.7,887.4 L529.5,887.6 L531.3,887.5 L533.1,888.0 L535.0,886.8 L536.8,887.1 L538.6,890.8 L540.4,888.1 L542.3,883.8 L544.1,882.3 L545.9,886.7 L547.7,886.9 L549.6,886.3 L551.4,886.8 L553.2,890.8 L555.0,887.4 L556.9,885.1 L558.7,882.7 L560.5,881.4 L562.3,885.8 L564.1,884.4 L566.0,884.6 L567.8,885.0 L569.6,884.0 L571.4,884.3 L573.3,885.8 L575.1,884.5 L576.9,891.2 L578.7,889.4 L580.6,887.6 L582.4,880.5 L584.2,882.2 L586.0,887.6 L587.9,887.4 L589.7,884.5 L591.5,887.8 L593.3,889.4 L595.1,879.1 L597.0,883.4 L598.8,889.5 L600.6,891.2 L602.4,884.1 L604.3,888.5 L606.1,881.4 L607.9,883.1 L609.7,891.2 L611.6,889.2 L613.4,887.7 L615.2,879.3 L617.0,881.0 L618.9,886.7 L620.7,883.6 L622.5,883.2 L624.3,885.0 L626.1,884.4 L628.0,884.5 L629.8,883.2 L631.6,885.1 L633.4,885.4 L635.3,885.8 L637.1,884.1 L638.9,893.9 L640.7,891.5 L642.6,884.6 L644.4,883.2 L646.2,888.4 L648.0,888.5 L649.9,885.9 L651.7,885.0 L653.5,890.2 L655.3,891.2 L657.1,888.6 L659.0,888.5 L660.8,892.9 L662.6,894.8 L664.4,891.0 L666.3,883.2 L668.1,885.2 L669.9,892.2 L671.7,893.9 L673.6,888.5 L675.4,888.6 L677.2,888.0 L679.0,888.6 L680.9,888.5 L682.7,885.0 L684.5,886.5 L686.3,888.5 L688.1,890.3 L690.0,886.3 L691.8,886.1 L693.6,887.2 L695.4,886.7 L697.3,883.2 L699.1,884.0 L700.9,885.9 L702.7,885.8 L704.6,886.0 L706.4,880.9 L708.2,882.7 L710.0,890.8 L711.9,888.4 L713.7,885.6 L715.5,885.0 L717.3,888.5 L719.1,888.4 L721.0,886.8 L722.8,886.8 L724.6,891.2 L726.4,890.0 L728.3,886.0 L730.1,883.2 L731.9,888.5 L733.7,888.3 L735.6,885.0 L737.4,885.5 L739.2,884.0 L741.0,887.6 L742.9,878.4 L744.7,887.5 L746.5,884.6 L748.3,886.3 L750.1,885.9 L752.0,890.8 L753.8,885.4 L755.6,884.6 L757.4,883.8 L759.3,886.7 L761.1,883.7 L762.9,882.1 L764.7,880.5 L766.6,888.5 L768.4,887.2 L770.2,879.6 L772.0,881.6 L773.9,888.4 L775.7,892.6 L777.5,883.2 L779.3,882.7 L781.1,880.5 L783.0,878.4 L784.8,886.7 L786.6,882.3 L788.4,882.3 L790.3,887.6 L792.1,886.6 L793.9,882.0 L795.7,886.0 L797.6,885.7 L799.4,885.8 L801.2,885.9 L803.0,882.9 L804.9,881.4 L806.7,888.8 L808.5,883.5 L810.3,879.6 L812.1,886.7 L814.0,886.5 L815.8,884.1 L817.6,884.8 L819.4,887.6 L821.3,887.1 L823.1,885.5 L824.9,884.5 L826.7,885.3 L828.6,888.0 L830.4,889.7 L832.2,886.3 L834.0,886.5 L835.9,887.8 L837.7,886.3 L839.5,885.6 L841.3,887.6 L843.1,887.4 L845.0,886.7 L846.8,886.8 L848.6,887.6 L850.4,888.0 L852.3,885.7 L854.1,882.3 L855.9,890.3 L857.7,888.4 L859.6,881.4 L861.4,888.5 L863.2,888.0 L865.0,889.0 L866.9,887.4 L868.7,892.6 L870.5,887.4 L872.3,889.1 L874.1,886.8 L876.0,889.4 L877.8,888.6 L879.6,887.6 L881.4,886.2 L883.3,885.0 L885.1,886.7 L886.9,886.8 L888.7,885.6 L890.6,887.2 L892.4,884.5 L894.2,885.2 L896.0,889.7 L897.9,887.2 L899.7,884.1 L901.5,883.2 L903.3,886.7 L905.1,886.1 L907.0,884.9 L908.8,885.2 L910.6,885.0 L912.4,885.8 L914.3,884.4 L916.1,886.4 L917.9,881.4 L919.7,882.9 L921.6,889.7 L923.4,885.0 L925.2,884.9 L927.0,886.7 L928.9,883.5 L930.7,882.3 L932.5,893.5 L934.3,888.4 L936.1,883.2 L938.0,883.2 L939.8,882.3 L941.6,886.7 L943.4,883.0 L945.3,887.5 L947.1,888.6 L948.9,890.3 L950.7,881.4 L952.6,888.4 L954.4,884.4 L956.2,884.8 L958.0,883.8 L959.9,890.3 L961.7,886.4 L963.5,886.8 L965.3,888.5 L967.1,888.6 L969.0,881.0 L970.8,878.4 L972.6,891.5 L974.4,882.3 L976.3,882.4 L978.1,880.8 L979.9,878.4 L981.7,890.3 L983.6,882.1 L985.4,881.4 L987.2,882.1 L989.0,880.2 L990.9,891.2 L992.7,888.7 L994.5,885.9 L996.3,886.3 L998.1,888.5 L1000.0,887.7 L1001.8,885.2 L1003.6,883.8 L1005.4,886.3 L1007.3,886.8 L1009.1,888.2 L1010.9,889.4 L1012.7,885.0 L1014.6,885.3 L1016.4,883.8 L1018.2,886.7 L1020.0,879.6 L1021.9,881.1 L1023.7,881.9 L1025.5,885.6 L1027.3,882.3 L1029.1,885.8 L1031.0,885.3 L1032.8,886.1 L1034.6,884.8 L1036.4,884.1 L1038.3,887.6 L1040.1,887.1 L1041.9,886.6 L1043.7,886.3 L1045.6,889.7 L1047.4,887.7 L1049.2,887.4 L1051.0,887.3 L1052.9,886.5 L1054.7,886.7 L1056.5,883.8 L1058.3,884.7 L1060.1,885.7 L1062.0,887.7 L1063.8,886.1 L1065.6,885.9 L1067.4,889.7 L1069.3,887.8 L1071.1,886.1 L1072.9,885.9 L1074.7,887.6 L1076.6,887.9 L1078.4,885.7 L1080.2,884.1 L1082.0,891.7 L1083.9,887.8 L1085.7,885.1 L1087.5,886.4 L1089.3,882.7 L1091.1,885.8 L1093.0,885.3 L1094.8,886.2 L1096.6,886.3 L1098.4,885.0 L1100.3,886.5 L1102.1,887.0 L1103.9,886.8 L1105.7,889.4 L1107.6,884.9 L1109.4,883.8 L1111.2,888.5 L1113.0,888.3 L1114.9,885.6 L1116.7,890.3 L1118.5,889.0 L1120.3,879.6 L1122.1,890.7 L1124.0,892.6 L1125.8,887.4 L1127.6,887.6 L1129.4,887.6 L1131.3,887.7 L1133.1,885.9 L1134.9,886.5 L1136.7,890.3 L1138.6,888.0 L1140.4,886.3 L1142.2,884.5 L1144.0,886.7 L1145.9,886.7 L1147.7,885.8 L1149.5,883.8 L1151.3,888.5 L1153.1,887.8 L1155.0,885.5 L1156.8,887.0 L1158.6,887.6 L1160.4,882.3 L1162.3,883.6 L1164.1,886.6 L1165.9,882.9 L1167.7,881.4 L1169.6,886.7 L1171.4,878.4 L1173.2,884.3 L1175.0,887.2 L1176.9,885.0 L1178.7,888.8 L1180.5,888.4 L1182.3,887.6 L1184.1,887.4 L1186.0,891.0 L1187.8,892.6 L1189.6,882.9 L1191.4,880.9 L1193.3,887.5 L1195.1,887.6 L1196.9,884.4 L1198.7,883.2 L1200.6,893.5 L1202.4,891.5 L1204.2,886.4 L1206.0,885.9 L1207.9,887.6 L1209.7,887.2 L1211.5,885.5 L1213.3,885.0 L1215.1,886.5 L1217.0,886.7 L1218.8,886.2 L1220.6,883.8 L1222.4,884.4 L1224.3,885.6 L1226.1,885.8 L1227.9,884.9 L1229.7,884.5 L1231.6,885.6 L1233.4,888.3 L1235.2,889.4 L1237.0,885.9 L1238.9,885.8 L1240.7,887.7 L1242.5,891.2 L1244.3,884.1 L1246.1,885.2 L1248.0,887.1 L1249.8,887.6 L1251.6,888.5 L1253.4,885.0 L1255.3,885.8 L1257.1,885.6 L1258.9,885.8 L1260.7,885.0 L1262.6,885.0 L1264.4,884.5 L1266.2,884.5 L1268.0,884.5 L1269.9,881.4 L1271.7,882.3 L1273.5,877.7 L1275.3,874.7 L1277.1,885.8 L1279.0,883.3 L1280.8,882.3 L1282.6,886.8 L1284.4,886.8 L1286.3,890.3 L1288.1,883.2 L1289.9,881.4 L1291.7,890.3 L1293.6,888.6 L1295.4,880.2 L1297.2,881.9 L1299.0,886.7 L1300.9,886.1 L1302.7,883.2 L1304.5,884.0 L1306.3,887.0 L1308.1,888.5 L1310.0,883.8 L1311.8,884.0 L1313.6,887.9 L1315.4,882.3 L1317.3,891.5 L1319.1,882.9 L1320.9,880.3 L1322.7,878.4 L1324.6,884.0 L1326.4,883.7 L1328.2,884.5 L1330.0,885.9 L1331.9,885.6 L1333.7,884.9 L1335.5,885.5 L1337.3,880.1 L1339.1,877.8 L1341.0,882.7 L1342.8,889.7 L1344.6,888.3 L1346.4,883.2 L1348.3,886.9 L1350.1,887.6 L1351.9,884.3 L1353.7,883.8 L1355.6,892.6 L1357.4,888.7 L1359.2,883.7 L1361.0,887.5 L1362.9,887.6 L1364.7,882.0 L1366.5,883.4 L1368.3,887.4 L1370.1,887.5 L1372.0,888.5 L1373.8,883.2 L1375.6,888.1 L1377.4,883.9 L1379.3,881.9 L1381.1,879.6 L1382.9,890.3 L1384.7,888.5 L1386.6,890.4 L1388.4,889.8 L1390.2,894.8 L1392.0,888.3 L1393.9,889.6 L1395.7,886.6 L1397.5,882.7 L1399.3,888.5 L1401.1,888.5 L1403.0,886.7 L1404.8,886.8 L1406.6,890.8 L1408.4,889.7 L1410.3,885.5 L1412.1,884.5 L1413.9,885.3 L1415.7,888.7 L1417.6,891.2 L1419.4,882.3 L1421.2,883.6 L1423.0,887.9 L1424.9,883.4 L1426.7,889.4 L1428.5,880.5 L1430.3,887.1 L1432.1,883.2 L1434.0,886.9 L1435.8,883.2 L1437.6,888.5 L1439.4,887.2 L1441.3,885.9 L1443.1,882.4 L1444.9,881.4 L1446.7,884.9 L1448.6,884.7 L1450.4,882.3 L1452.2,880.2 L1454.0,878.4 L1455.9,885.5 L1457.7,886.3 L1459.5,887.6 L1461.3,879.6 L1463.1,881.2 L1465.0,883.4 L1466.8,885.0 L1468.6,884.9 L1470.4,885.2 L1472.3,883.5 L1474.1,882.7 L1475.9,885.6 L1477.7,887.2 L1479.6,889.4 L1481.4,887.4 L1483.2,887.4 L1485.0,889.1 L1486.9,887.0 L1488.7,886.3 L1490.5,893.5 L1492.3,889.2 L1494.1,881.4 L1496.0,888.5 L1497.8,886.0 L1499.6,887.5 L1501.4,887.4 L1503.3,891.5 L1505.1,887.0 L1506.9,885.9 L1508.7,886.3 L1510.6,888.5 L1512.4,885.5 L1514.2,884.0 L1516.0,883.2 L1517.9,884.9 L1519.7,883.7 L1521.5,881.2 L1523.3,879.6 L1525.1,885.8 L1527.0,884.4 L1528.8,885.0 L1530.6,884.8 L1532.4,892.6 L1534.3,881.0 L1536.1,878.4 L1537.9,883.3 L1539.7,890.5 L1541.6,892.6 L1543.4,885.0 L1545.2,885.3 L1547.0,886.9 L1548.9,886.7 L1550.7,887.0 L1552.5,884.7 L1554.3,883.8 L1556.1,890.3 L1558.0,888.4 L1559.8,886.7 L1561.6,887.6 L1563.4,887.4 L1565.3,890.4 L1567.1,891.5 L1568.9,887.7 L1570.7,887.3 L1572.6,888.7 L1574.4,889.4 L1576.2,884.0 L1578.0,882.7 L1579.9,887.0 L1581.7,884.9 L1583.5,886.7 L1585.3,882.3 L1587.1,886.4 L1589.0,884.1 L1590.8,880.5 L1592.6,886.7 L1594.4,886.4 L1596.3,883.3 L1598.1,881.5 L1599.9,879.6 L1601.7,886.9 L1603.6,888.5 L1605.4,887.6 L1607.2,885.0 L1609.0,887.5 L1610.9,885.2 L1612.7,889.4 L1614.5,884.1"/>
<path class="ln" stroke="#0000ff" d="M157.5,794.0 L159.3,812.0 L161.1,800.0 L163.0,762.0 L164.8,761.0 L166.6,817.0 L168.4,801.6 L170.3,770.0 L172.1,766.9 L173.9,770.7 L175.7,810.2 L177.6,770.7 L179.4,771.5 L181.2,764.6 L183.0,795.5 L184.9,797.7 L186.7,795.0 L188.5,767.5 L190.3,759.4 L192.1,772.6 L194.0,797.2 L195.8,803.4 L197.6,777.4 L199.4,779.5 L201.3,800.6 L203.1,774.4 L204.9,779.7 L206.7,810.0 L208.6,821.5 L210.4,756.4 L212.2,801.0 L214.0,812.7 L215.9,803.7 L217.7,774.4 L219.5,791.5 L221.3,791.7 L223.1,760.3 L225.0,750.3 L226.8,792.5 L228.6,804.5 L230.4,771.4 L232.3,773.4 L234.1,773.0 L235.9,768.4 L237.7,786.9 L239.6,787.9 L241.4,787.1 L243.2,759.4 L245.0,766.0 L246.9,795.7 L248.7,789.5 L250.5,765.4 L252.3,758.2 L254.1,767.9 L256.0,798.4 L257.8,791.5 L259.6,765.2 L261.4,758.2 L263.3,786.9 L265.1,787.9 L266.9,786.2 L268.7,761.2 L270.6,767.3 L272.4,769.7 L274.2,789.4 L276.0,769.4 L277.9,763.6 L279.7,802.2 L281.5,790.1 L283.3,773.3 L285.1,775.8 L287.0,772.9 L288.8,792.4 L290.6,768.4 L292.4,771.6 L294.3,769.9 L296.1,783.4 L297.9,756.4 L299.7,786.6 L301.6,774.4 L303.4,776.7 L305.2,777.9 L307.0,814.2 L308.9,775.3 L310.7,771.9 L312.5,764.6 L314.3,796.9 L316.1,771.5 L318.0,803.6 L319.8,814.2 L321.6,759.1 L323.4,771.6 L325.3,792.6 L327.1,772.9 L328.9,797.4 L330.7,774.5 L332.6,774.4 L334.4,770.6 L336.2,788.7 L338.0,786.1 L339.9,789.2 L341.7,775.0 L343.5,793.9 L345.3,799.5 L347.1,769.9 L349.0,773.8 L350.8,789.3 L352.6,790.2 L354.4,788.4 L356.3,758.2 L358.1,789.6 L359.9,795.7 L361.7,780.4 L363.6,777.4 L365.4,786.4 L367.2,787.2 L369.0,741.3 L370.9,768.9 L372.7,802.8 L374.5,812.4 L376.3,800.1 L378.1,772.9 L380.0,779.3 L381.8,802.2 L383.6,801.3 L385.4,786.8 L387.3,804.7 L389.1,787.9 L390.9,822.5 L392.7,787.2 L394.6,798.4 L396.4,783.9 L398.2,786.1 L400.0,780.4 L401.9,788.1 L403.7,792.7 L405.5,797.3 L407.3,766.4 L409.1,792.9 L411.0,773.3 L412.8,761.2 L414.6,749.3 L416.4,815.9 L418.3,805.4 L420.1,797.3 L421.9,767.3 L423.7,774.3 L425.6,781.3 L427.4,781.8 L429.2,803.6 L431.0,788.9 L432.9,788.8 L434.7,751.5 L436.5,736.6 L438.3,801.4 L440.1,809.9 L442.0,798.0 L443.8,794.4 L445.6,796.6 L447.4,800.5 L449.3,796.8 L451.1,782.5 L452.9,773.3 L454.7,766.4 L456.6,793.3 L458.4,780.4 L460.2,783.4 L462.0,780.0 L463.9,810.5 L465.7,776.0 L467.5,768.9 L469.3,758.3 L471.1,822.7 L473.0,773.9 L474.8,802.1 L476.6,772.7 L478.4,800.5 L480.3,795.4 L482.1,797.5 L483.9,800.5 L485.7,770.4 L487.6,762.3 L489.4,804.9 L491.2,814.1 L493.0,773.6 L494.9,816.4 L496.7,803.0 L498.5,770.1 L500.3,761.6 L502.1,802.3 L504.0,811.3 L505.8,824.0 L507.6,766.4 L509.4,796.9 L511.3,795.7 L513.1,760.5 L514.9,809.0 L516.7,822.2 L518.6,751.4 L520.4,768.5 L522.2,825.5 L524.0,812.2 L525.9,778.9 L527.7,774.5 L529.5,800.5 L531.3,774.3 L533.1,791.0 L535.0,796.0 L536.8,761.6 L538.6,785.2 L540.4,786.4 L542.3,790.3 L544.1,794.8 L545.9,773.6 L547.7,790.8 L549.6,780.1 L551.4,780.0 L553.2,793.3 L555.0,792.8 L556.9,770.6 L558.7,795.1 L560.5,800.2 L562.3,799.2 L564.1,781.8 L566.0,776.7 L567.8,824.0 L569.6,814.6 L571.4,784.5 L573.3,788.3 L575.1,780.1 L576.9,805.1 L578.7,798.5 L580.6,754.3 L582.4,764.3 L584.2,802.1 L586.0,761.3 L587.9,754.7 L589.7,813.7 L591.5,744.5 L593.3,727.6 L595.1,796.1 L597.0,799.6 L598.8,767.3 L600.6,770.8 L602.4,799.6 L604.3,802.4 L606.1,811.4 L607.9,762.8 L609.7,799.7 L611.6,772.2 L613.4,804.2 L615.2,766.4 L617.0,773.4 L618.9,777.0 L620.7,781.5 L622.5,778.2 L624.3,798.7 L626.1,760.9 L628.0,749.3 L629.8,796.9 L631.6,794.2 L633.4,770.4 L635.3,771.9 L637.1,765.5 L638.9,804.7 L640.7,772.7 L642.6,797.6 L644.4,769.9 L646.2,761.6 L648.0,812.6 L649.9,793.9 L651.7,775.3 L653.5,770.9 L655.3,788.8 L657.1,783.6 L659.0,781.4 L660.8,815.9 L662.6,779.5 L664.4,775.0 L666.3,769.1 L668.1,789.9 L669.9,792.4 L671.7,786.7 L673.6,753.1 L675.4,741.7 L677.2,782.0 L679.0,787.0 L680.9,761.1 L682.7,748.4 L684.5,758.0 L686.3,798.7 L688.1,767.3 L690.0,766.4 L691.8,786.1 L693.6,787.3 L695.4,767.7 L697.3,801.4 L699.1,770.4 L700.9,789.9 L702.7,764.6 L704.6,789.7 L706.4,786.0 L708.2,756.1 L710.0,804.2 L711.9,796.2 L713.7,763.2 L715.5,753.2 L717.3,774.2 L719.1,797.1 L721.0,781.8 L722.8,811.4 L724.6,802.4 L726.4,755.6 L728.3,764.7 L730.1,789.7 L731.9,779.5 L733.7,780.0 L735.6,819.5 L737.4,800.8 L739.2,778.4 L741.0,774.2 L742.9,767.3 L744.7,796.9 L746.5,779.9 L748.3,780.0 L750.1,805.1 L752.0,798.9 L753.8,774.5 L755.6,791.3 L757.4,790.6 L759.3,789.2 L761.1,768.2 L762.9,789.8 L764.7,792.4 L766.6,790.3 L768.4,775.4 L770.2,778.3 L772.0,776.6 L773.9,792.4 L775.7,789.7 L777.5,774.3 L779.3,768.2 L781.1,809.6 L783.0,780.8 L784.8,781.8 L786.6,783.1 L788.4,796.9 L790.3,780.4 L792.1,775.4 L793.9,808.7 L795.7,787.5 L797.6,784.5 L799.4,803.1 L801.2,784.6 L803.0,782.1 L804.9,822.2 L806.7,799.5 L808.5,773.6 L810.3,804.2 L812.1,796.8 L814.0,766.4 L815.8,758.3 L817.6,795.6 L819.4,803.8 L821.3,767.3 L823.1,770.5 L824.9,803.3 L826.7,763.4 L828.6,782.5 L830.4,781.5 L832.2,786.8 L834.0,777.3 L835.9,799.6 L837.7,786.7 L839.5,788.1 L841.3,785.5 L843.1,790.8 L845.0,791.5 L846.8,773.6 L848.6,785.2 L850.4,803.3 L852.3,786.3 L854.1,824.9 L855.9,783.2 L857.7,804.1 L859.6,772.6 L861.4,763.4 L863.2,804.2 L865.0,802.1 L866.9,810.5 L868.7,763.6 L870.5,753.2 L872.3,789.7 L874.1,786.6 L876.0,776.7 L877.8,772.7 L879.6,819.5 L881.4,765.1 L883.3,755.6 L885.1,787.9 L886.9,787.8 L888.7,771.2 L890.6,765.5 L892.4,806.9 L894.2,780.0 L896.0,779.8 L897.9,790.2 L899.7,789.7 L901.5,788.2 L903.3,761.6 L905.1,789.0 L907.0,773.1 L908.8,776.0 L910.6,772.7 L912.4,793.1 L914.3,798.7 L916.1,770.9 L917.9,771.1 L919.7,787.9 L921.6,784.1 L923.4,748.0 L925.2,799.7 L927.0,809.6 L928.9,770.9 L930.7,776.0 L932.5,800.5 L934.3,756.5 L936.1,767.1 L938.0,802.0 L939.8,808.7 L941.6,786.3 L943.4,783.1 L945.3,782.5 L947.1,772.7 L948.9,790.6 L950.7,806.0 L952.6,800.7 L954.4,784.5 L956.2,787.8 L958.0,820.4 L959.9,805.0 L961.7,782.2 L963.5,777.6 L965.3,820.4 L967.1,804.4 L969.0,798.7 L970.8,804.2 L972.6,762.3 L974.4,804.1 L976.3,815.5 L978.1,806.0 L979.9,768.2 L981.7,796.1 L983.6,800.5 L985.4,773.6 L987.2,781.3 L989.0,781.8 L990.9,795.1 L992.7,770.5 L994.5,763.4 L996.3,792.4 L998.1,788.9 L1000.0,776.3 L1001.8,772.7 L1003.6,800.5 L1005.4,773.9 L1007.3,769.5 L1009.1,799.6 L1010.9,808.7 L1012.7,763.5 L1014.6,755.6 L1016.4,782.5 L1018.2,785.3 L1020.0,771.8 L1021.9,805.4 L1023.7,774.0 L1025.5,789.0 L1027.3,770.0 L1029.1,793.3 L1031.0,788.1 L1032.8,782.6 L1034.6,782.5 L1036.4,761.6 L1038.3,775.4 L1040.1,780.0 L1041.9,778.2 L1043.7,802.3 L1045.6,764.7 L1047.4,755.6 L1049.2,810.8 L1051.0,775.7 L1052.9,772.7 L1054.7,782.7 L1056.5,780.7 L1058.3,747.5 L1060.1,786.1 L1062.0,784.5 L1063.8,772.7 L1065.6,775.4 L1067.4,804.7 L1069.3,756.5 L1071.1,766.8 L1072.9,765.5 L1074.7,796.0 L1076.6,759.2 L1078.4,750.7 L1080.2,786.1 L1082.0,782.1 L1083.9,769.4 L1085.7,765.5 L1087.5,793.9 L1089.3,802.3 L1091.1,760.7 L1093.0,752.5 L1094.8,787.0 L1096.6,789.7 L1098.4,754.7 L1100.3,806.9 L1102.1,755.2 L1103.9,743.3 L1105.7,804.2 L1107.6,815.9 L1109.4,780.0 L1111.2,779.1 L1113.0,792.0 L1114.9,794.2 L1116.7,756.5 L1118.5,789.7 L1120.3,759.2 L1122.1,794.5 L1124.0,800.5 L1125.8,778.2 L1127.6,782.2 L1129.4,780.0 L1131.3,816.4 L1133.1,771.8 L1134.9,753.6 L1136.7,739.7 L1138.6,790.6 L1140.4,768.7 L1142.2,762.8 L1144.0,770.2 L1145.9,805.5 L1147.7,816.4 L1149.5,766.4 L1151.3,772.7 L1153.1,771.8 L1155.0,772.8 L1156.8,799.6 L1158.6,763.7 L1160.4,768.6 L1162.3,783.5 L1164.1,787.5 L1165.9,753.2 L1167.7,781.7 L1169.6,782.5 L1171.4,770.9 L1173.2,772.9 L1175.0,794.2 L1176.9,767.7 L1178.7,791.6 L1180.5,782.9 L1182.3,787.2 L1184.1,815.3 L1186.0,796.0 L1187.8,778.2 L1189.6,780.3 L1191.4,787.9 L1193.3,786.5 L1195.1,749.6 L1196.9,788.6 L1198.7,770.7 L1200.6,770.9 L1202.4,797.3 L1204.2,768.7 L1206.0,761.6 L1207.9,792.5 L1209.7,791.5 L1211.5,794.8 L1213.3,783.6 L1215.1,785.1 L1217.0,796.9 L1218.8,794.2 L1220.6,757.4 L1222.4,798.0 L1224.3,804.2 L1226.1,781.8 L1227.9,782.5 L1229.7,775.4 L1231.6,815.9 L1233.4,797.5 L1235.2,791.7 L1237.0,793.3 L1238.9,782.7 L1240.7,799.1 L1242.5,785.4 L1244.3,812.3 L1246.1,782.6 L1248.0,769.5 L1249.8,802.3 L1251.6,798.0 L1253.4,784.8 L1255.3,781.8 L1257.1,799.6 L1258.9,791.0 L1260.7,789.0 L1262.6,806.4 L1264.4,812.3 L1266.2,772.7 L1268.0,778.7 L1269.9,798.1 L1271.7,780.9 L1273.5,801.4 L1275.3,796.3 L1277.1,764.6 L1279.0,794.2 L1280.8,792.3 L1282.6,766.4 L1284.4,773.3 L1286.3,797.8 L1288.1,783.6 L1289.9,780.9 L1291.7,784.2 L1293.6,808.1 L1295.4,817.7 L1297.2,771.3 L1299.0,794.4 L1300.9,788.2 L1302.7,790.6 L1304.5,774.5 L1306.3,786.4 L1308.1,787.9 L1310.0,745.3 L1311.8,767.2 L1313.6,796.9 L1315.4,773.6 L1317.3,778.3 L1319.1,772.7 L1320.9,806.6 L1322.7,813.5 L1324.6,790.8 L1326.4,788.1 L1328.2,780.2 L1330.0,772.7 L1331.9,804.2 L1333.7,789.8 L1335.5,789.0 L1337.3,812.5 L1339.1,819.5 L1341.0,790.8 L1342.8,763.8 L1344.6,750.5 L1346.4,794.2 L1348.3,790.1 L1350.1,772.3 L1351.9,766.4 L1353.7,794.8 L1355.6,775.4 L1357.4,772.5 L1359.2,766.4 L1361.0,791.9 L1362.9,791.0 L1364.7,793.3 L1366.5,783.6 L1368.3,780.0 L1370.1,779.4 L1372.0,791.9 L1373.8,794.2 L1375.6,749.3 L1377.4,772.6 L1379.3,775.5 L1381.1,770.9 L1382.9,794.2 L1384.7,780.1 L1386.6,776.4 L1388.4,795.5 L1390.2,798.7 L1392.0,783.6 L1393.9,760.4 L1395.7,745.7 L1397.5,822.7 L1399.3,781.7 L1401.1,787.2 L1403.0,800.5 L1404.8,788.1 L1406.6,787.9 L1408.4,807.8 L1410.3,783.6 L1412.1,787.2 L1413.9,782.5 L1415.7,745.3 L1417.6,764.7 L1419.4,785.7 L1421.2,791.5 L1423.0,758.3 L1424.9,767.8 L1426.7,766.4 L1428.5,782.5 L1430.3,770.4 L1432.1,766.4 L1434.0,795.1 L1435.8,779.5 L1437.6,781.8 L1439.4,802.7 L1441.3,794.6 L1443.1,796.0 L1444.9,795.4 L1446.7,770.9 L1448.6,812.6 L1450.4,799.7 L1452.2,718.2 L1454.0,782.5 L1455.9,782.4 L1457.7,776.4 L1459.5,778.0 L1461.3,793.3 L1463.1,789.1 L1465.0,740.6 L1466.8,791.6 L1468.6,796.9 L1470.4,776.4 L1472.3,780.5 L1474.1,779.1 L1475.9,809.6 L1477.7,776.8 L1479.6,769.5 L1481.4,804.2 L1483.2,802.7 L1485.0,809.6 L1486.9,770.6 L1488.7,793.4 L1490.5,791.5 L1492.3,785.4 L1494.1,785.7 L1496.0,802.3 L1497.8,775.4 L1499.6,780.8 L1501.4,790.3 L1503.3,794.4 L1505.1,801.4 L1506.9,793.4 L1508.7,779.7 L1510.6,774.5 L1512.4,798.7 L1514.2,786.1 L1516.0,785.4 L1517.9,768.2 L1519.7,812.6 L1521.5,793.2 L1523.3,781.8 L1525.1,786.1 L1527.0,785.2 L1528.8,777.1 L1530.6,773.6 L1532.4,795.1 L1534.3,792.0 L1536.1,781.8 L1537.9,782.4 L1539.7,797.8 L1541.6,778.5 L1543.4,781.9 L1545.2,808.7 L1547.0,794.8 L1548.9,768.7 L1550.7,760.5 L1552.5,794.2 L1554.3,794.2 L1556.1,773.2 L1558.0,771.8 L1559.8,792.4 L1561.6,790.4 L1563.4,752.5 L1565.3,762.4 L1567.1,793.8 L1568.9,799.6 L1570.7,776.4 L1572.6,795.3 L1574.4,774.5 L1576.2,768.3 L1578.0,759.7 L1579.9,804.2 L1581.7,777.0 L1583.5,776.4 L1585.3,809.6 L1587.1,771.3 L1589.0,779.6 L1590.8,812.6 L1592.6,805.2 L1594.4,781.8 L1596.3,796.9 L1598.1,796.0 L1599.9,763.4 L1601.7,804.2 L1603.6,798.6 L1605.4,798.5 L1607.2,769.1 L1609.0,800.5 L1610.9,789.0 L1612.7,776.4 L1614.5,812.6"/>
</g>
<text class="tk" transform="translate(336.5,1253.3) scale(0.932,1)" text-anchor="middle"><tspan dx="1.5">1</tspan><tspan dx="-1.5">00</tspan></text><text class="tk" transform="translate(518.9,1253.3) scale(0.932,1)" text-anchor="middle">200</text><text class="tk" transform="translate(701.2,1253.3) scale(0.932,1)" text-anchor="middle">300</text><text class="tk" transform="translate(883.6,1253.3) scale(0.932,1)" text-anchor="middle">400</text><text class="tk" transform="translate(1065.9,1253.3) scale(0.932,1)" text-anchor="middle">500</text><text class="tk" transform="translate(1248.3,1253.3) scale(0.932,1)" text-anchor="middle">600</text><text class="tk" transform="translate(1430.6,1253.3) scale(0.932,1)" text-anchor="middle">700</text><text class="tk" transform="translate(1613.0,1253.3) scale(0.932,1)" text-anchor="middle">800</text><text class="tk" transform="translate(136.8,1207.1) scale(0.932,1)" text-anchor="end">0</text><text class="tk" transform="translate(138.5,1015.8) scale(0.932,1)" text-anchor="end">1</text><text class="tk" transform="translate(136.8,824.4) scale(0.932,1)" text-anchor="end">2</text><text class="tk" transform="translate(136.8,633.1) scale(0.932,1)" text-anchor="end">3</text><text class="tk" transform="translate(136.8,441.7) scale(0.932,1)" text-anchor="end">4</text><text class="tk" transform="translate(136.8,250.3) scale(0.932,1)" text-anchor="end">5</text><text class="tk" transform="translate(136.8,59.0) scale(0.932,1)" text-anchor="end">6</text>
<path d="M116 1011.4h8.5v5.6h-8.5zM129.4 1011.4h8.6v5.6h-8.6zM302 1248.4h10.1v5.6h-10.1zM316.9 1248.4h9v5.6h-9z" fill="#fff"/>
<text class="lb" transform="translate(886.3,1326) scale(0.961,1)" text-anchor="middle">Time slot</text>
<text class="lb" transform="translate(63.2,616.2) rotate(-90) scale(0.961,1)" text-anchor="middle"><tspan letter-spacing="-0.2">Utility</tspan><tspan dx="3"> estimation</tspan><tspan dx="-4"> (</tspan><tspan dx="3" letter-spacing="-1.3"> e.g.</tspan><tspan dx="2.6"> S</tspan><tspan dy="22" dx="2.8" font-size="45px">3</tspan><tspan dy="-22" dx="1.2"> )</tspan></text>
<path d="M1022 84H1570V385H1022Z" fill="#fff"/><path shape-rendering="crispEdges" d="M1022 84H1570V385H1022Z M1026 87V382H1567V87Z" fill="#262626" fill-rule="evenodd"/>
<rect shape-rendering="crispEdges" x="1037" y="123" width="101" height="8" fill="#ff0000"/><text class="lg" transform="translate(1148.5,148.4) scale(0.961,1)">Softmax-greedy</text>
<rect shape-rendering="crispEdges" x="1037" y="195" width="101" height="7" fill="#00ff00"/><text class="lg" transform="translate(1148.5,219.9) scale(0.961,1)"><tspan font-family="'Liberation Serif','DejaVu Serif',serif" font-style="italic" font-weight="bold" font-size="50px" stroke="#000" stroke-width="1.4">ϵ</tspan><tspan dx="5.6">-greedy</tspan></text>
<rect shape-rendering="crispEdges" x="1037" y="266" width="101" height="8" fill="#000"/><text class="lg" transform="translate(1148.5,291.4) scale(0.961,1)">Greedy</text>
<rect shape-rendering="crispEdges" x="1037" y="338" width="101" height="7" fill="#0000ff"/><text class="lg" transform="translate(1148.5,363.0) scale(0.961,1)">Random</text>
</svg>
</body></html>
